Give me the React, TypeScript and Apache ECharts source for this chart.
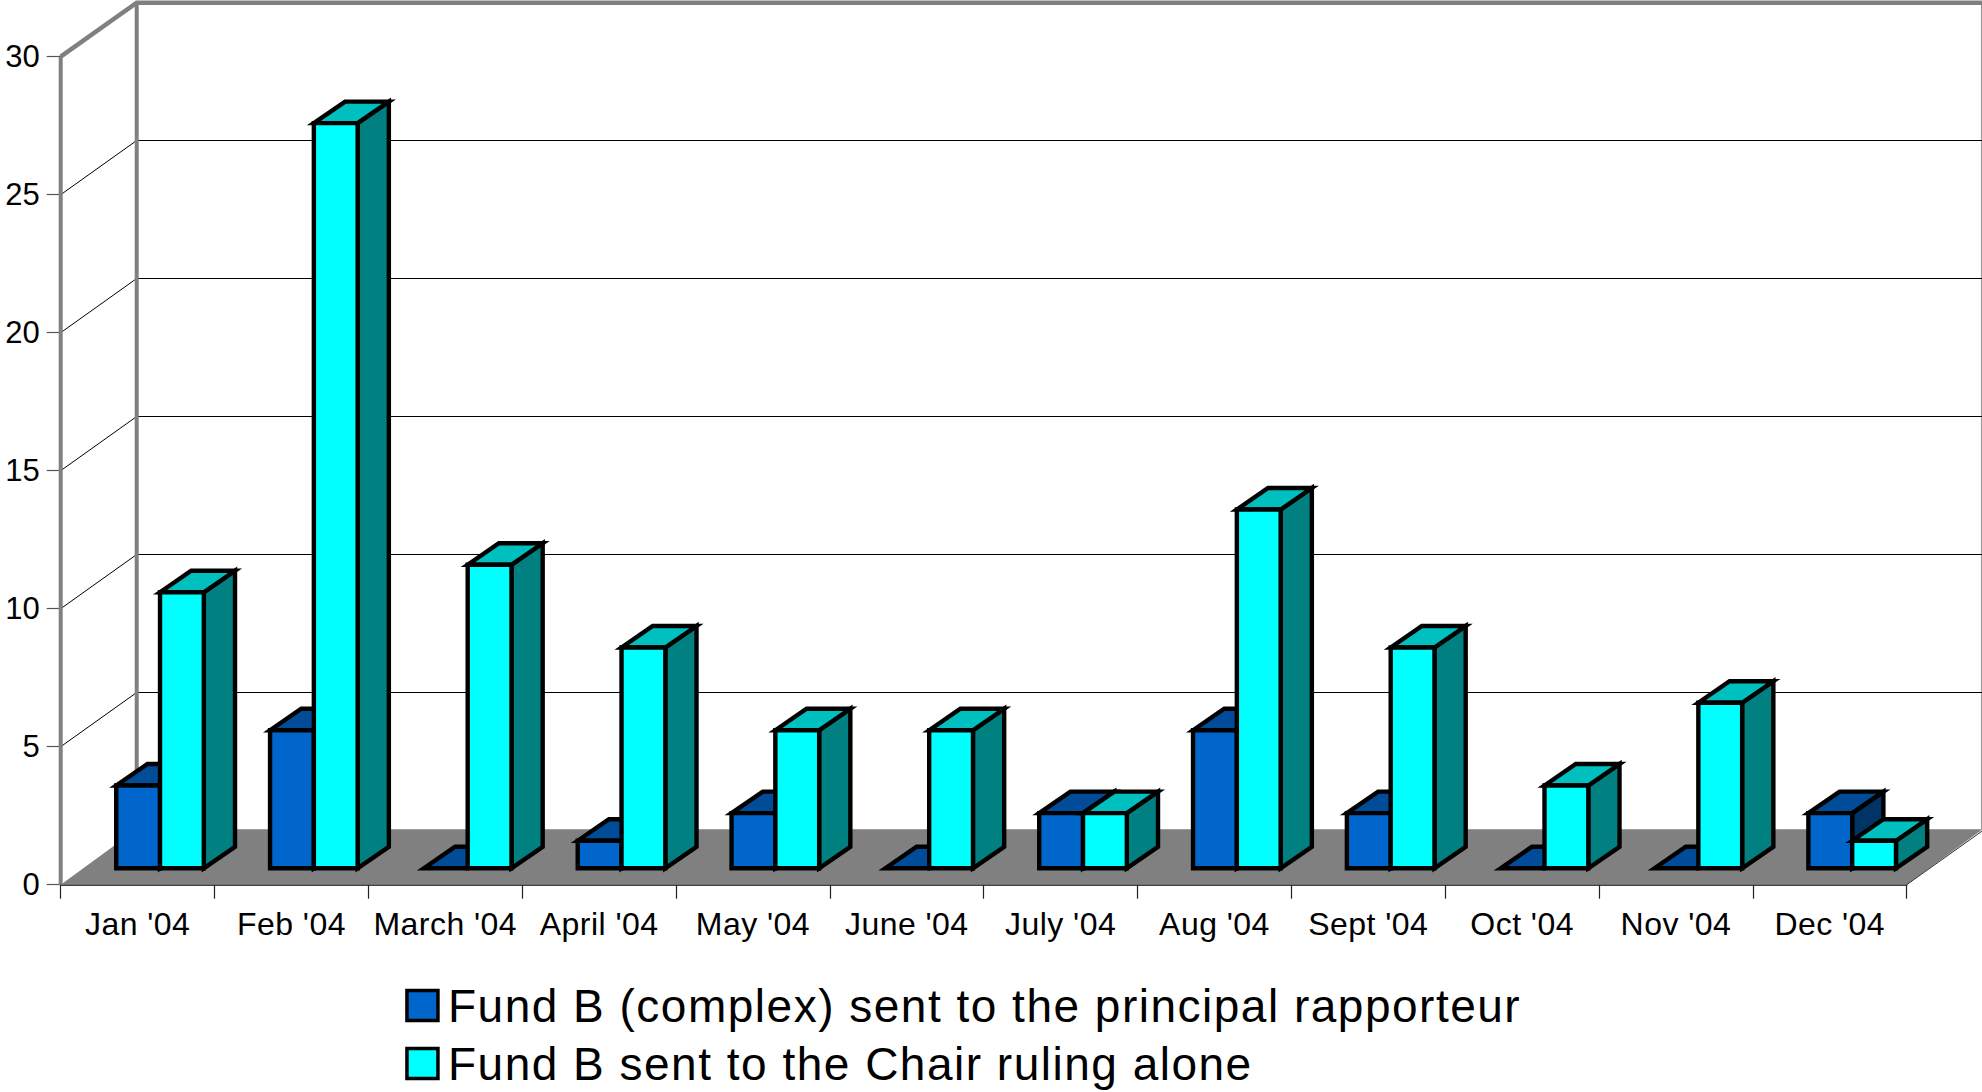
import React, { useEffect, useRef } from "react";
import * as echarts from "echarts";

const categories = ["Jan '04", "Feb '04", "March '04", "April '04", "May '04", "June '04", "July '04", "Aug '04", "Sept '04", "Oct '04", "Nov '04", "Dec '04"];
const complexValues = [3, 5, 0, 1, 2, 0, 2, 5, 2, 0, 0, 2];
const chairValues = [10, 27, 11, 8, 5, 5, 2, 13, 8, 3, 6, 1];
const yTicks = [0, 5, 10, 15, 20, 25, 30];
const nameComplex = "Fund B (complex) sent to the principal rapporteur";
const nameChair = "Fund B sent to the Chair ruling alone";

const FONT = "Liberation Sans";
const DX = 76, DY = -54;
const BAR_W = 43.8, BAR_DX = 31.2, BAR_DY = -21.5, OFF_X = 22.4, OFF_Y = -16.4;
const STROKE = 4.4;

const blue = { front: "#0066cc", top: "#004c99", side: "#003366" };
const cyan = { front: "#00ffff", top: "#00bfbf", side: "#008080" };

function barRender(palette: any, leftShift: number) {
  return (_: any, api: any) => {
    const i = api.value(0);
    const v = api.value(1);
    const top = api.coord([i, v]);
    const base = api.coord([i, 0]);
    const x = top[0] + OFF_X + leftShift;
    const yt = top[1] + OFF_Y;
    const yb = base[1] + OFF_Y;
    const st = { stroke: "#000", lineWidth: STROKE, lineJoin: "miter", miterLimit: 10 };
    const children: any[] = [
      { type: "polygon", shape: { points: [[x + BAR_W, yt], [x + BAR_W + BAR_DX, yt + BAR_DY], [x + BAR_W + BAR_DX, yb + BAR_DY], [x + BAR_W, yb]] }, style: { fill: palette.side, ...st } },
      { type: "polygon", shape: { points: [[x, yt], [x + BAR_DX, yt + BAR_DY], [x + BAR_W + BAR_DX, yt + BAR_DY], [x + BAR_W, yt]] }, style: { fill: palette.top, ...st } },
    ];
    if (v > 0) {
      children.push({ type: "polygon", shape: { points: [[x, yt], [x + BAR_W, yt], [x + BAR_W, yb], [x, yb]] }, style: { fill: palette.front, ...st } });
    }
    return { type: "group", children };
  };
}

function wallRender(params: any, api: any) {
  const cs = params.coordSys;
  const x0 = cs.x, x1 = cs.x + cs.width;
  const yb = api.coord([0, 0])[1];
  const yt = api.coord([0, 30])[1];
  const gray = "#808080";
  const floorDy = DY - 1.5;
  return {
    type: "group",
    children: [
      { type: "polygon", shape: { points: [[x0, yb], [x0 + DX, yb + floorDy], [x1 + DX, yb + floorDy], [x1, yb]] }, style: { fill: gray } },
      { type: "line", shape: { x1: x1 + DX - 1, y1: yt + DY, x2: x1 + DX - 1, y2: yb + floorDy }, style: { stroke: "#999", lineWidth: 1.5 } },
    ],
  };
}

function gridRender(params: any, api: any) {
  const cs = params.coordSys;
  const x0 = cs.x, x1 = cs.x + cs.width;
  const v = api.value(1);
  const y = api.coord([0, v])[1];
  if (v === 0) {
    return { type: "line", shape: { x1: x1, y1: y, x2: x1 + DX, y2: y + DY }, style: { stroke: "#333", lineWidth: 1 } };
  }
  if (v === 30) {
    return {
      type: "polyline",
      shape: { points: [[x0, y], [x0 + DX, y + DY], [x1 + DX + 2, y + DY]] },
      style: { stroke: "#808080", lineWidth: 4.5, fill: "none", lineJoin: "miter" },
    };
  }
  const yBack = Math.floor(y + DY) + 0.5;
  return {
    type: "polyline",
    shape: { points: [[x0, y], [x0 + DX, yBack], [x1 + DX, yBack]] },
    style: { stroke: "#000", lineWidth: 1, fill: "none" },
  };
}

function backPostRender(params: any, api: any) {
  const x0 = params.coordSys.x;
  const yb = api.coord([0, 0])[1];
  const yt = api.coord([0, 30])[1];
  return {
    type: "group",
    children: [
      { type: "line", shape: { x1: x0 + DX, y1: yt + DY, x2: x0 + DX, y2: yb + DY }, style: { stroke: "#808080", lineWidth: 4 } },
      { type: "line", shape: { x1: x0, y1: yt, x2: x0, y2: yb }, style: { stroke: "#808080", lineWidth: 4 } },
    ],
  };
}

function legendFor(name: string, fill: string, top: number) {
  return {
    orient: "vertical",
    left: 405.2,
    top,
    padding: 0,
    itemWidth: 31,
    itemHeight: 30,
    selectedMode: false,
    textStyle: { fontFamily: FONT, fontSize: 46, lineHeight: 50, color: "#000", padding: [0, 0, 0, 5] },
    data: [{ name, icon: "rect", itemStyle: { color: fill, borderColor: "#000", borderWidth: 3.5 } }],
  };
}

export default function App() {
  const ref = useRef<HTMLDivElement>(null);
  useEffect(() => {
    document.body.style.margin = "0";
    document.body.style.overflow = "hidden";
    const chart = echarts.init(ref.current!, null, { renderer: "svg" });
    const deco = { type: "custom", silent: true, clip: false, coordinateSystem: "cartesian2d", xAxisIndex: 0, yAxisIndex: 0 };
    chart.setOption({
      animation: false,
      backgroundColor: "#fff",
      textStyle: { fontFamily: FONT },
      grid: { left: 60.7, right: 75.3, top: 56.7, bottom: 207.3, containLabel: false },
      legend: [legendFor(nameComplex, blue.front, 980.5), legendFor(nameChair, cyan.front, 1038.5)],
      xAxis: {
        type: "category",
        data: categories,
        boundaryGap: true,
        axisLine: { show: true, lineStyle: { color: "#000", width: 1.5 } },
        axisTick: { show: true, alignWithLabel: false, length: 14, lineStyle: { color: "#222", width: 1.2 } },
        axisLabel: { fontFamily: FONT, fontSize: 32, color: "#000", margin: 23, interval: 0 },
        splitLine: { show: false },
      },
      yAxis: {
        type: "value",
        min: 0,
        max: 30,
        interval: 5,
        axisLine: { show: true, lineStyle: { color: "#222", width: 1 } },
        axisTick: { show: true, length: 14, lineStyle: { color: "#555", width: 1.2 } },
        axisLabel: { fontFamily: FONT, fontSize: 31, color: "#000", margin: 21, padding: [0, 0, 3, 0] },
        splitLine: { show: false },
      },
      series: [
        { ...deco, name: "walls", z: 1, data: [[0, 0]], renderItem: wallRender },
        { ...deco, name: "gridlines", z: 1, data: yTicks.map((t) => [0, t]), renderItem: gridRender },
        { ...deco, name: "posts", z: 1, data: [[0, 0]], renderItem: backPostRender },
        { type: "custom", name: nameComplex, z: 2, clip: false, itemStyle: { color: blue.front }, data: complexValues.map((v, i) => [i, v]), encode: { x: 0, y: 1 }, renderItem: barRender(blue, -BAR_W) },
        { type: "custom", name: nameChair, z: 3, clip: false, itemStyle: { color: cyan.front }, data: chairValues.map((v, i) => [i, v]), encode: { x: 0, y: 1 }, renderItem: barRender(cyan, 0) },
      ],
    });
    ref.current!.querySelectorAll("text").forEach((t) => {
      const s = t.textContent || "";
      if (s === nameComplex || s === nameChair) t.setAttribute("letter-spacing", "1.5");
      else if (categories.includes(s)) t.setAttribute("letter-spacing", "0.45");
    });
    return () => chart.dispose();
  }, []);
  return <div ref={ref} style={{ width: 1982, height: 1092 }} />;
}
